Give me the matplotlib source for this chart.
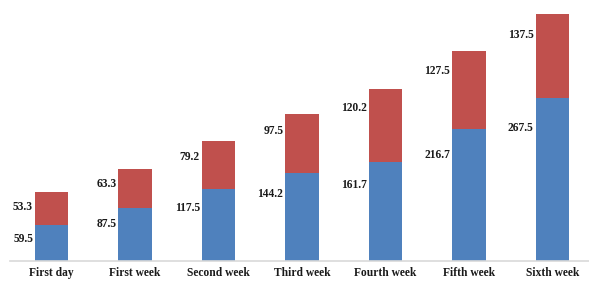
import matplotlib
matplotlib.use("Agg")
import matplotlib.pyplot as plt
import numpy as np

categories = ["First day", "First week", "Second week", "Third week",
              "Fourth week", "Fifth week", "Sixth week"]
blue_vals = [59.5, 87.5, 117.5, 144.2, 161.7, 216.7, 267.5]
red_vals = [53.3, 63.3, 79.2, 97.5, 120.2, 127.5, 137.5]

BLUE = "#4f81bd"
RED = "#c0504d"
FONT = dict(family=["Liberation Serif", "DejaVu Serif"], weight="bold", size=8.3, color="#1a1a1a")

W, H = 589, 281
fig = plt.figure(figsize=(W / 100, H / 100), dpi=100)
ax = fig.add_axes([10 / W, 20 / H, 1 - 10 / W, 261 / H])

x = np.arange(len(categories))
bw = 0.4
blue = np.array(blue_vals)
red = np.array(red_vals)
ax.bar(x, blue, bw, color=BLUE, zorder=2)
ax.bar(x, red, bw, bottom=blue, color=RED, zorder=2)

# value labels sit left of each segment, a bit below its top
for i in range(len(x)):
    for top, h in [(blue[i], blue[i]), (blue[i] + red[i], red[i])]:
        ax.annotate(f"{h:.1f}", (x[i] - bw / 2, top - 0.12 * h),
                    xytext=(-1.5, -7.5), textcoords="offset points",
                    ha="right", va="center", **FONT)

ax.set_xlim(-0.5, 6.44)
ax.set_ylim(0, 428)
for s in ["top", "right", "left"]:
    ax.spines[s].set_visible(False)
ax.spines["bottom"].set_color("#d9d9d9")
ax.spines["bottom"].set_linewidth(1.2)
ax.set_yticks([])
ax.set_xticks(x)
ax.set_xticklabels(categories, **FONT)
ax.tick_params(axis="x", length=0, pad=4)

fig.savefig("out.png", dpi=100)
